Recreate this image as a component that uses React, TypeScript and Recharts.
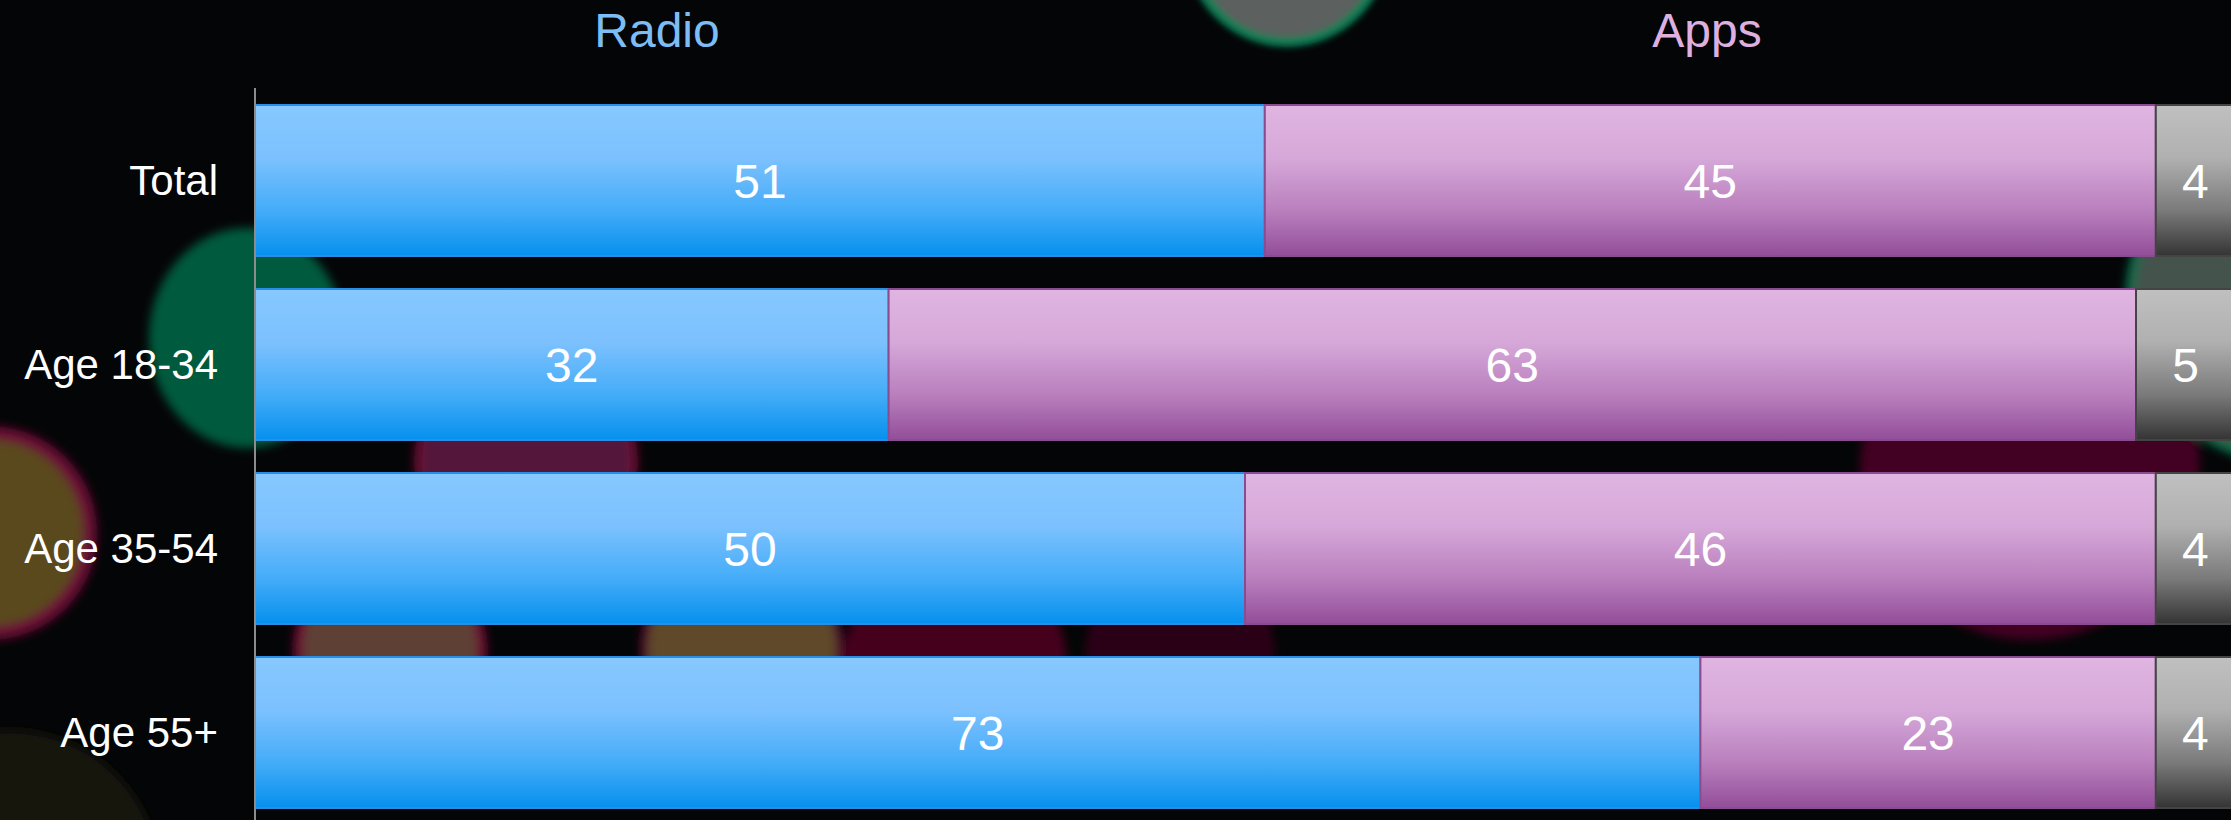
import React from 'react';
import { BarChart, Bar, XAxis, YAxis, LabelList, Customized } from 'recharts';

const categories = ['Total', 'Age 18-34', 'Age 35-54', 'Age 55+'];
const radioValues = [51, 32, 50, 73];
const appsValues = [45, 63, 46, 23];
const otherValues = [4, 5, 4, 4];
const seriesTitles = ['Radio', 'Apps'];

const data = categories.map((name, i) => ({
  name,
  radio: radioValues[i],
  apps: appsValues[i],
  other: otherValues[i],
}));

const FONT = '"Liberation Sans", Arial, Helvetica, sans-serif';

const Titles = () => (
  <g>
    <text x={657} y={47} textAnchor="middle" fill="#7dbdf5" fontSize={48} fontFamily={FONT}>
      {seriesTitles[0]}
    </text>
    <text x={1707} y={47} textAnchor="middle" fill="#deb0e0" fontSize={48} fontFamily={FONT}>
      {seriesTitles[1]}
    </text>
  </g>
);

const Bokeh = () => (
  <svg width={2231} height={820} style={{ position: 'absolute', left: 0, top: 0 }}>
    <defs>
      <filter id="blur5" x="-50%" y="-50%" width="200%" height="200%">
        <feGaussianBlur stdDeviation="5" />
      </filter>
      <filter id="blur3" x="-50%" y="-50%" width="200%" height="200%">
        <feGaussianBlur stdDeviation="3" />
      </filter>
    </defs>
    <rect x={0} y={0} width={2231} height={820} fill="#040506" />
    <g filter="url(#blur3)">
      <circle cx={1287} cy={-55} r={97} fill="#5c615e" stroke="#0b7c55" strokeWidth={10} />
    </g>
    <g filter="url(#blur5)">
      <ellipse cx={247} cy={338} rx={98} ry={110} fill="#005a3e" />
      <circle cx={-10} cy={533} r={100} fill="#5a4a1e" stroke="#6a0c34" strokeWidth={14} />
      <circle cx={526} cy={462} r={108} fill="#55163a" stroke="#6a0a30" strokeWidth={8} />
      <circle cx={2030} cy={470} r={170} fill="#420020" />
      <circle cx={2290} cy={300} r={160} fill="#44524e" stroke="#0b6a4a" strokeWidth={10} />
      <circle cx={390} cy={650} r={92} fill="#5e4034" stroke="#6a1030" strokeWidth={10} />
      <circle cx={742} cy={650} r={98} fill="#5e4a2a" stroke="#50102a" strokeWidth={8} />
      <circle cx={955} cy={665} r={112} fill="#45001a" />
      <circle cx={1180} cy={655} r={95} fill="#2c0512" />
      <circle cx={10} cy={880} r={150} fill="#16130e" />
    </g>
  </svg>
);

export default function App() {
  return (
    <div
      style={{
        position: 'fixed',
        left: 0,
        top: 0,
        width: 2231,
        height: 820,
        overflow: 'hidden',
        background: '#040506',
        fontFamily: FONT,
      }}
    >
      <Bokeh />
      <div style={{ position: 'absolute', left: 0, top: 0 }}>
        <BarChart
          width={2240}
          height={830}
          data={data}
          layout="vertical"
          margin={{ top: 88, right: 5, bottom: 6, left: 0 }}
          barSize={151}
        >
          <defs>
            <linearGradient id="gRadio" x1="0" y1="0" x2="0" y2="1">
              <stop offset="0%" stopColor="#86c8ff" />
              <stop offset="35%" stopColor="#7cc1fe" />
              <stop offset="70%" stopColor="#44acf8" />
              <stop offset="100%" stopColor="#0590ee" />
            </linearGradient>
            <linearGradient id="gApps" x1="0" y1="0" x2="0" y2="1">
              <stop offset="0%" stopColor="#e0b5e1" />
              <stop offset="35%" stopColor="#d6a8d9" />
              <stop offset="70%" stopColor="#b97fbd" />
              <stop offset="100%" stopColor="#924e99" />
            </linearGradient>
            <linearGradient id="gOther" x1="0" y1="0" x2="0" y2="1">
              <stop offset="0%" stopColor="#c0c0c0" />
              <stop offset="35%" stopColor="#b0b0b0" />
              <stop offset="70%" stopColor="#7a7a7a" />
              <stop offset="100%" stopColor="#343434" />
            </linearGradient>
          </defs>
          <XAxis type="number" domain={[0, 100]} hide />
          <YAxis
            type="category"
            dataKey="name"
            width={255}
            tickSize={0}
            tickMargin={37}
            tickLine={false}
            axisLine={{ stroke: '#8c8c8c', strokeWidth: 2 }}
            tick={{ fill: '#ffffff', fontSize: 42, fontFamily: FONT }}
          />
          <Bar dataKey="radio" stackId="a" fill="url(#gRadio)" stroke="#2a8fe2" strokeWidth={2} isAnimationActive={false}>
            <LabelList dataKey="radio" position="center" fill="#ffffff" stroke="none" fontSize={48} fontFamily={FONT} />
          </Bar>
          <Bar dataKey="apps" stackId="a" fill="url(#gApps)" stroke="#8a4c90" strokeWidth={2} isAnimationActive={false}>
            <LabelList dataKey="apps" position="center" fill="#ffffff" stroke="none" fontSize={48} fontFamily={FONT} />
          </Bar>
          <Bar dataKey="other" stackId="a" fill="url(#gOther)" stroke="#444444" strokeWidth={2} isAnimationActive={false}>
            <LabelList dataKey="other" position="center" fill="#ffffff" stroke="none" fontSize={48} fontFamily={FONT} />
          </Bar>
          <Customized component={Titles} />
        </BarChart>
      </div>
    </div>
  );
}
